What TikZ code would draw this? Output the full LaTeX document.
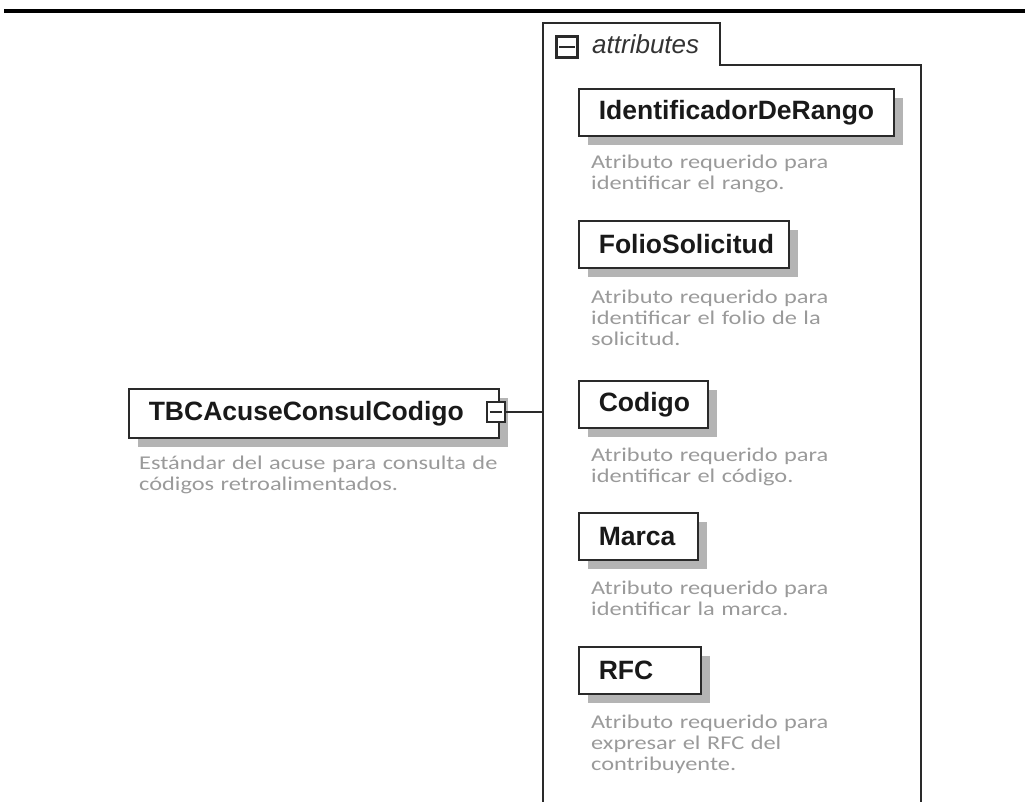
\documentclass[tikz,border=0pt]{standalone}
\usepackage{fontspec}
\usetikzlibrary{shadows}
\newfontfamily\labfont{Liberation Sans}
\newfontfamily\descfont{Carlito}[FakeStretch=1.25]
\definecolor{framecol}{HTML}{2A2A2A}
\definecolor{desccol}{HTML}{9A9A9A}
\definecolor{shadowcol}{HTML}{B4B4B4}
\tikzset{
  elem/.style={draw=framecol, line width=1.6pt, fill=white, anchor=north west,
    minimum height=47pt, inner xsep=20pt, inner ysep=0pt, align=left,
    font=\labfont\bfseries\fontsize{26.5}{30}\selectfont, text=black!90,
    general shadow={fill=shadowcol, shadow xshift=9pt, shadow yshift=-9pt}},
  desc/.style={anchor=base west, inner sep=0pt, text width=420pt, align=left,
    font=\descfont\fontsize{19.5}{21}\selectfont, text=desccol},
  minusbox/.style={draw=framecol, line width=2.4pt, fill=white, inner sep=0pt},
  frameline/.style={draw=framecol, line width=1.5pt},
}
\begin{document}
\begin{tikzpicture}[x=1pt,y=-1pt]
\useasboundingbox (0,0) rectangle (1025,801);
% top rule
\draw[line width=4pt, black] (4,11) -- (1025,11);
% attributes group frame
\draw[frameline] (543,803) -- (543,23) -- (720,23) -- (720,65) -- (921,65) -- (921,803);
\node[minusbox, minimum width=21pt, minimum height=21pt] (attrminus) at (567,47) {};
\draw[framecol, line width=1.8pt] ([xshift=4pt]attrminus.west) -- ([xshift=-4pt]attrminus.east);
\node[anchor=base west, inner sep=0pt, font=\labfont\itshape\fontsize{26}{30}\selectfont, text=black!80] (attrlabel) at (592,53) {attributes};
% attribute elements
\node[elem, text width=275pt] (idr) at (578,88) {IdentificadorDeRango};
\node[desc] (idrd) at (591,168) {Atributo requerido para\\identificar el rango.};
\node[elem, text width=170pt] (folio) at (578,220) {FolioSolicitud};
\node[desc] (foliod) at (591,303) {Atributo requerido para\\identificar el folio de la\\solicitud.};
\node[elem, text width=89pt] (codigo) at (578,380) {Codigo};
\node[desc] (codigod) at (591,461) {Atributo requerido para\\identificar el código.};
\node[elem, text width=79pt] (marca) at (578,512) {Marca};
\node[desc] (marcad) at (591,594) {Atributo requerido para\\identificar la marca.};
\node[elem, text width=82pt] (rfc) at (578,646) {RFC};
\node[desc] (rfcd) at (591,728) {Atributo requerido para\\expresar el RFC del\\contribuyente.};
% main element
\node[elem, text width=330pt, minimum height=49pt] (tbc) at (128,388) {TBCAcuseConsulCodigo};
\node[desc] (tbcd) at (139,469) {Estándar del acuse para consulta de\\códigos retroalimentados.};
\node[minusbox, minimum width=18pt, minimum height=20pt] (tbcminus) at (496,412) {};
\draw[framecol, line width=1.8pt] ([xshift=4pt]tbcminus.west) -- ([xshift=-4pt]tbcminus.east);
\coordinate (attrL) at (543,412);
\draw[frameline] (tbcminus.east) -- (attrL);
\end{tikzpicture}
\end{document}
